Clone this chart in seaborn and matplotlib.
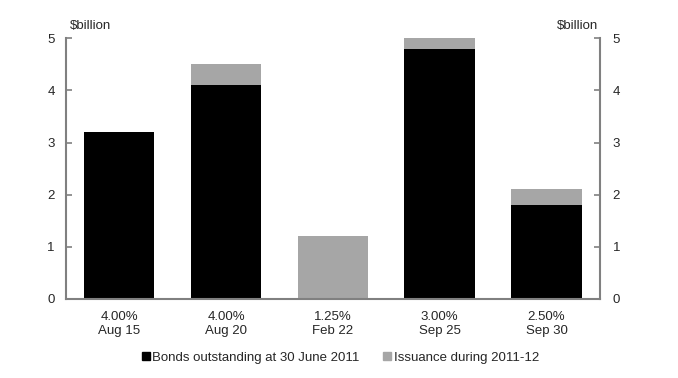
import pandas as pd
import seaborn as sns
import matplotlib.pyplot as plt
from matplotlib.lines import Line2D

# Data
bonds = ["4.00%\nAug 15", "4.00%\nAug 20", "1.25%\nFeb 22", "3.00%\nSep 25", "2.50%\nSep 30"]
outstanding = [3.2, 4.1, 0.0, 4.8, 1.8]
issuance = [0.0, 0.4, 1.2, 0.2, 0.3]

df = pd.DataFrame({"bond": bonds, "outstanding": outstanding, "issuance": issuance})
df["total"] = df["outstanding"] + df["issuance"]

sns.set_style("white")
plt.rcParams["font.family"] = ["Liberation Sans", "DejaVu Sans"]
plt.rcParams["font.size"] = 9.5

fig = plt.figure(figsize=(6.78, 3.78), dpi=100)
ax = fig.add_axes([0.097, 0.209, 0.788, 0.690])

black = "#000000"
grey = "#a6a6a6"
spine_col = "#808080"

# stacked bars: total in grey behind, outstanding in black on top
sns.barplot(data=df, x="bond", y="total", color=grey, width=0.66, ax=ax,
            saturation=1, edgecolor="none")
sns.barplot(data=df, x="bond", y="outstanding", color=black, width=0.66, ax=ax,
            saturation=1, edgecolor="none")

ax.set_ylim(0, 5)
ax.set_xlim(-0.5, len(bonds) - 0.5)
ax.set_yticks([0, 1, 2, 3, 4, 5])
ax.set_xlabel("")
ax.set_ylabel("")

# x ticks: labels centred, tick marks at category boundaries
ax.set_xticks(range(len(bonds)))
ax.set_xticklabels(bonds)
ax.tick_params(axis="x", length=0, pad=9)
ax.set_xticks([i + 0.5 for i in range(len(bonds) - 1)], minor=True)
ax.tick_params(axis="x", which="minor", direction="in", length=4, color=spine_col, width=1.2)
ax.tick_params(axis="y", direction="in", length=4, color=spine_col, width=1.2, pad=8)

for side in ["left", "bottom", "right"]:
    ax.spines[side].set_visible(True)
    ax.spines[side].set_color(spine_col)
    ax.spines[side].set_linewidth(1.5)
ax.spines["top"].set_visible(False)

# right axis
ax2 = ax.twinx()
ax2.set_ylim(0, 5)
ax2.set_yticks([0, 1, 2, 3, 4, 5])
ax2.tick_params(axis="y", direction="in", length=4, color=spine_col, width=1.2, pad=9)
for s in ax2.spines.values():
    s.set_visible(False)

ax.text(0.008, 1.025, "\\$billion", transform=ax.transAxes, ha="left", va="bottom")
ax.text(0.996, 1.025, "\\$billion", transform=ax.transAxes, ha="right", va="bottom")

handles = [
    Line2D([], [], marker="s", linestyle="none", color=black, markersize=6),
    Line2D([], [], marker="s", linestyle="none", color=grey, markersize=6),
]
fig.legend(handles, ["Bonds outstanding at 30 June 2011", "Issuance during 2011-12"],
           loc="center", bbox_to_anchor=(0.5, 0.053), ncol=2, frameon=False,
           handletextpad=0.0, columnspacing=1.6, handlelength=1.0)

fig.savefig("out.png", dpi=100)
